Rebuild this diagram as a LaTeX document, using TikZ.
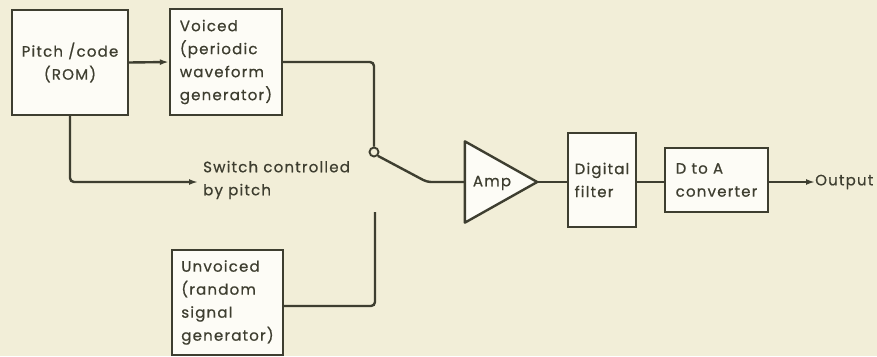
\documentclass[tikz,border=0pt]{standalone}
\usepackage{fontspec}
\setmainfont{Poppins}[LetterSpace=8, FakeBold=0.7]
\usetikzlibrary{arrows.meta}
\definecolor{bg}{RGB}{242,238,216}
\definecolor{ink}{RGB}{62,62,48}
\definecolor{boxfill}{RGB}{253,252,246}
\begin{document}
\begin{tikzpicture}[x=1pt,y=-1pt,
  every node/.style={font=\fontsize{15}{23}\selectfont, text=ink, inner sep=0pt},
  blk/.style={draw=ink, line width=2.4pt, fill=boxfill, align=left},
  wire/.style={draw=ink, line width=2.4pt, rounded corners=4pt},
  arr/.style={wire, -{Latex[length=9pt,width=6pt]}}]
\fill[bg] (0,0) rectangle (877,356);
\useasboundingbox (0,0) rectangle (877,356);
\node[blk, align=center, minimum width=116, minimum height=105] (pitch) at (70,62.5) {Pitch /code\\(ROM)};
\node[blk, minimum width=112, minimum height=106] (voiced) at (226,62) {Voiced\\(periodic\\waveform\\generator)};
\node[blk, minimum width=111, minimum height=105] (unvoiced) at (227.5,302.5) {Unvoiced\\(random\\signal\\generator)};
\node[draw=ink, line width=1.9pt, circle, fill=bg, minimum size=9pt] (sw) at (374,152) {};
\coordinate (swend) at (427,182);
\coordinate (uvtop) at (375,212);
\coordinate (ctl) at (198,182);
\node[anchor=west, align=left] (ctltext) at (203,180) {Switch controlled\\by pitch};
\node[minimum width=72, minimum height=81] (amp) at (501,182) {};
\draw[ink, line width=2.4pt, line join=round, fill=boxfill] (amp.north west) -- (amp.east) -- (amp.south west) -- cycle;
\node (amptext) at (492,183) {Amp};
\node[blk, minimum width=68, minimum height=94] (filt) at (602,180) {Digital\\filter};
\node[blk, minimum width=103, minimum height=64] (dac) at (716.5,180) {D to A\\converter};
\node[anchor=west] (out) at (815,182) {Output};
\draw[arr] (pitch.east) -- (voiced.west);
\draw[wire] (voiced.east) -| (sw.north);
\draw[arr] (pitch.south) |- (ctl);
\draw[wire] (sw.south east) -- (swend) -- (amp.west);
\draw[wire] (unvoiced.east |- 0,306) -| (uvtop);
\draw[wire] (amp.east) -- (filt.west |- amp.east);
\draw[wire] (filt.east |- amp.east) -- (dac.west |- amp.east);
\draw[arr] (dac.east |- amp.east) -- (out.west);
\end{tikzpicture}
\end{document}
